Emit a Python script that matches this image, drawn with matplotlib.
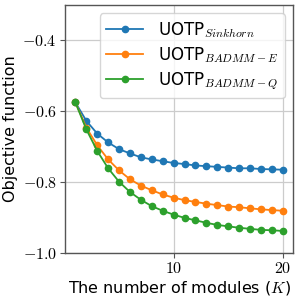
import numpy as np
import matplotlib
matplotlib.use("Agg")
import matplotlib.pyplot as plt
from matplotlib.ticker import FuncFormatter

plt.rcParams['mathtext.fontset'] = 'cm'

# number of modules K
K = list(range(1, 21))

# objective values
sinkhorn = [-0.575, -0.627, -0.663, -0.688, -0.707, -0.719, -0.730, -0.736, -0.741, -0.746,
            -0.749, -0.753, -0.755, -0.757, -0.759, -0.761, -0.761, -0.763, -0.764, -0.765]
badmm_e = [-0.575, -0.646, -0.696, -0.736, -0.767, -0.792, -0.810, -0.823, -0.835, -0.844,
           -0.851, -0.856, -0.861, -0.865, -0.869, -0.871, -0.874, -0.877, -0.879, -0.881]
badmm_q = [-0.575, -0.651, -0.712, -0.761, -0.799, -0.828, -0.850, -0.868, -0.881, -0.892,
           -0.901, -0.908, -0.915, -0.921, -0.925, -0.929, -0.932, -0.935, -0.936, -0.938]

labels = [r'UOTP$_{Sinkhorn}$', r'UOTP$_{BADMM-E}$', r'UOTP$_{BADMM-Q}$']

fig = plt.figure(figsize=(2.97, 3.0), dpi=100)
ax = fig.add_axes([0.219, 0.157, 0.768, 0.826])

for vals, lab, c in zip([sinkhorn, badmm_e, badmm_q], labels, ['#1f77b4', '#ff7f0e', '#2ca02c']):
    ax.plot(K, vals, marker='o', markersize=4.5, linewidth=1.3, color=c, label=lab)

ax.set_ylim(-1.0, -0.3)
ax.set_yticks([-1.0, -0.8, -0.6, -0.4])
ax.set_xticks([10, 20])
ax.yaxis.set_major_formatter(FuncFormatter(lambda v, p: r'$%.1f$' % v))
ax.xaxis.set_major_formatter(FuncFormatter(lambda v, p: r'$%d$' % v))
ax.tick_params(labelsize=11.5, color='#555555', length=3.5, pad=2.5)

ax.grid(True, color='#cccccc', linewidth=0.9)
ax.set_axisbelow(True)
for s in ax.spines.values():
    s.set_color('#555555')
    s.set_linewidth(1.0)

ax.set_xlabel(r'The number of modules ($K$)', fontsize=11.5, labelpad=2)
ax.set_ylabel('Objective function', fontsize=11.5, labelpad=3)
ax.legend(loc='upper right', fontsize=12, handlelength=2.2, handletextpad=0.9,
          borderpad=0.4, labelspacing=0.3, borderaxespad=0.5)

fig.savefig('out.png', dpi=100)
